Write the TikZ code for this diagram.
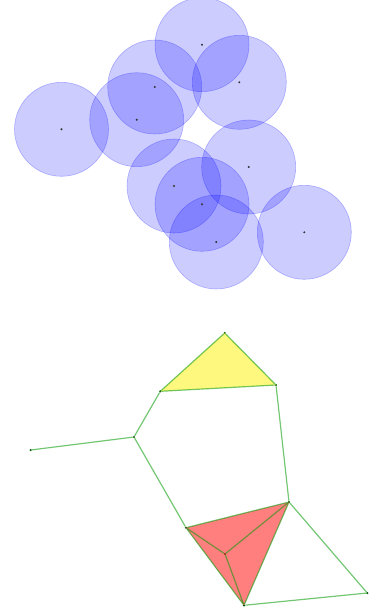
\documentclass[tikz,border=0pt]{standalone}
\usepackage{tikz}

\tikzset{
  disk/.style={circle, minimum size=94pt, inner sep=0pt, fill=blue, fill opacity=0.2, draw=blue, draw opacity=0.25, line width=0.6pt},
  pt/.style={circle, fill=black!80, inner sep=0pt, minimum size=2.2pt},
  vtx/.style={circle, fill=green!35!black, inner sep=0pt, minimum size=2.4pt},
  edge/.style={draw=green!60!black, draw opacity=0.55, line width=1.2pt}
}

\begin{document}
\begin{tikzpicture}[x=1pt, y=-1pt]
          \useasboundingbox (0,0) rectangle (375,613);
          % cover of the sample points
          \node[disk] (A) at (61.5, 129.3) {};
          \node[disk] (B) at (136.7, 119.7) {};
          \node[disk] (C) at (154.7, 87) {};
          \node[disk] (D) at (202, 44.7) {};
          \node[disk] (E) at (239.3, 82.3) {};
          \node[disk] (F) at (248.7, 167) {};
          \node[disk] (G) at (174, 186) {};
          \node[disk] (H) at (202, 204.3) {};
          \node[disk] (I) at (216.3, 242) {};
          \node[disk] (J) at (304.3, 232.3) {};
          \foreach \p in {A,B,C,D,E,F,G,H,I,J}
            \node[pt] (\p c) at (\p) {};
          % the complex
          \node[vtx] (a) at (30.7, 450) {};
          \node[vtx] (b) at (134, 437) {};
          \node[vtx] (c) at (160.3, 391.3) {};
          \node[vtx] (d) at (224.7, 333) {};
          \node[vtx] (e) at (276, 385) {};
          \node[vtx] (f) at (289, 502) {};
          \node[vtx] (g) at (186, 527.7) {};
          \node[vtx] (h) at (225, 554) {};
          \node[vtx] (i) at (244, 605.3) {};
          \node[vtx] (j) at (367.3, 593) {};
          \fill[yellow, fill opacity=0.5] (c.center) -- (d.center) -- (e.center) -- cycle;
          \fill[red, fill opacity=0.5] (g.center) -- (f.center) -- (i.center) -- cycle;
          \draw[edge] (a) -- (b);
          \draw[edge] (b) -- (c);
          \draw[edge] (c) -- (d);
          \draw[edge] (d) -- (e);
          \draw[edge] (c) -- (e);
          \draw[edge] (e) -- (f);
          \draw[edge] (b) -- (g);
          \draw[edge] (g) -- (f);
          \draw[edge] (g) -- (i);
          \draw[edge] (f) -- (i);
          \draw[edge] (g) -- (h);
          \draw[edge] (f) -- (h);
          \draw[edge] (h) -- (i);
          \draw[edge] (f) -- (j);
          \draw[edge] (i) -- (j);
          \end{tikzpicture}
\end{document}
